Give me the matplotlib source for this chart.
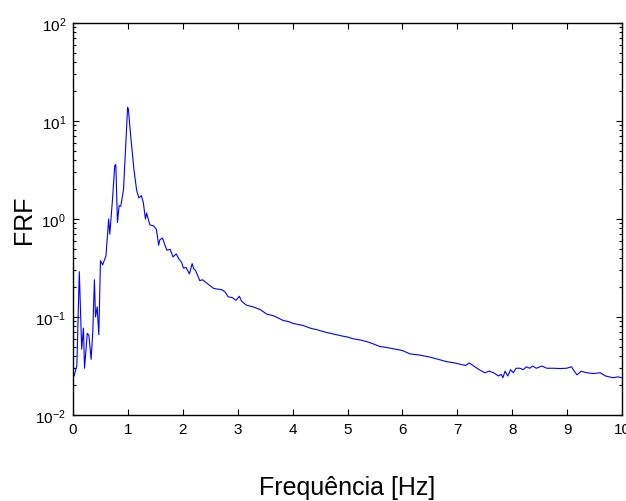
import numpy as np
import matplotlib
matplotlib.use("Agg")
import matplotlib.pyplot as plt
from matplotlib.ticker import FixedLocator, FuncFormatter, LogLocator, NullFormatter

plt.rcParams["font.family"] = ["Liberation Sans", "DejaVu Sans"]
plt.rcParams["mathtext.fontset"] = "custom"
plt.rcParams["mathtext.rm"] = "Liberation Sans"
plt.rcParams["mathtext.it"] = "Liberation Sans"

# frequency [Hz] and FRF magnitude
freq = [0.02, 0.07, 0.115, 0.158, 0.19, 0.21, 0.26, 0.29, 0.33, 0.36,
        0.39, 0.41, 0.44, 0.47, 0.50, 0.54, 0.60, 0.65, 0.67, 0.72,
        0.76, 0.78, 0.81, 0.84, 0.87, 0.92, 0.96, 0.995, 1.01, 1.05,
        1.11, 1.16, 1.20, 1.245, 1.28, 1.32, 1.34, 1.37, 1.40, 1.47,
        1.52, 1.56, 1.58, 1.63, 1.67, 1.71, 1.77, 1.82, 1.88, 1.93,
        1.98, 2.01, 2.06, 2.12, 2.17, 2.20, 2.23, 2.31, 2.36, 2.40,
        2.49, 2.56, 2.62, 2.71, 2.77, 2.83, 2.90, 2.97, 3.03, 3.07,
        3.16, 3.28, 3.41, 3.53, 3.65, 3.75, 3.83, 3.92, 4.01, 4.10,
        4.19, 4.32, 4.45, 4.60, 4.75, 4.90, 5.00, 5.10, 5.25, 5.40,
        5.59, 5.70, 5.87, 6.00, 6.14, 6.30, 6.50, 6.65, 6.81, 6.95,
        7.05, 7.15, 7.22, 7.32, 7.40, 7.50, 7.58, 7.66, 7.75, 7.80,
        7.83, 7.87, 7.92, 7.97, 8.02, 8.07, 8.14, 8.20, 8.26, 8.32,
        8.37, 8.44, 8.54, 8.63, 8.75, 8.88, 8.99, 9.08, 9.13, 9.18,
        9.26, 9.35, 9.48, 9.60, 9.70, 9.84, 9.92, 10.0]
frf = [0.025, 0.032, 0.29, 0.047, 0.077, 0.030, 0.068, 0.065, 0.037, 0.07,
       0.24, 0.10, 0.127, 0.066, 0.376, 0.34, 0.42, 1.0, 0.70, 1.6,
       3.5, 3.6, 0.92, 1.37, 1.35, 2.0, 5.6, 13.8, 13.0, 7.1,
       3.2, 1.95, 1.64, 1.73, 1.48, 1.0, 1.15, 1.0, 0.87, 0.85,
       0.78, 0.54, 0.61, 0.64, 0.55, 0.48, 0.49, 0.41, 0.44, 0.39,
       0.36, 0.315, 0.32, 0.275, 0.35, 0.31, 0.30, 0.235, 0.24, 0.23,
       0.21, 0.196, 0.193, 0.19, 0.18, 0.16, 0.158, 0.148, 0.163, 0.145,
       0.132, 0.127, 0.119, 0.107, 0.103, 0.097, 0.092, 0.090, 0.086, 0.084,
       0.082, 0.077, 0.074, 0.070, 0.067, 0.064, 0.0625, 0.060, 0.058, 0.055,
       0.050, 0.049, 0.047, 0.0455, 0.042, 0.041, 0.039, 0.037, 0.035, 0.034,
       0.033, 0.032, 0.034, 0.031, 0.029, 0.027, 0.028, 0.027, 0.025, 0.026,
       0.024, 0.028, 0.025, 0.029, 0.027, 0.030, 0.030, 0.029, 0.031, 0.030,
       0.0316, 0.030, 0.0316, 0.030, 0.030, 0.0298, 0.030, 0.031, 0.028, 0.0257,
       0.028, 0.027, 0.0265, 0.027, 0.025, 0.024, 0.0245, 0.024]

xticks = list(range(0, 11))
ydecades = [1e-2, 1e-1, 1e0, 1e1, 1e2]

fig = plt.figure(figsize=(6.26, 5.02), dpi=100)
ax = fig.add_axes([73 / 626, 86 / 502, 549 / 626, 392 / 502])

ax.plot(freq, frf, color=(0, 0, 1), linewidth=0.8)

ax.set_yscale("log")
ax.set_xlim(0, 10)
ax.set_ylim(1e-2, 1e2)

ax.xaxis.set_major_locator(FixedLocator(xticks))
ax.yaxis.set_major_locator(FixedLocator(ydecades))
ax.yaxis.set_minor_locator(LogLocator(base=10, subs=np.arange(2, 10)))
ax.yaxis.set_minor_formatter(NullFormatter())
ax.yaxis.set_major_formatter(
    FuncFormatter(lambda v, p: r"$10^{%d}$" % int(round(np.log10(v)))))

ax.tick_params(which="both", direction="in", top=True, right=True,
               labelsize=11, width=0.8)
ax.tick_params(which="major", length=4, pad=5)
ax.tick_params(which="minor", length=2.5)
for s in ax.spines.values():
    s.set_linewidth(1.0)

ax.set_xlabel("Frequência [Hz]", fontsize=18)
ax.set_ylabel("FRF", fontsize=18)
ax.xaxis.set_label_coords(0.5, -0.152)
ax.yaxis.set_label_coords(-0.068, 0.5)

fig.savefig("out.png", dpi=100)
